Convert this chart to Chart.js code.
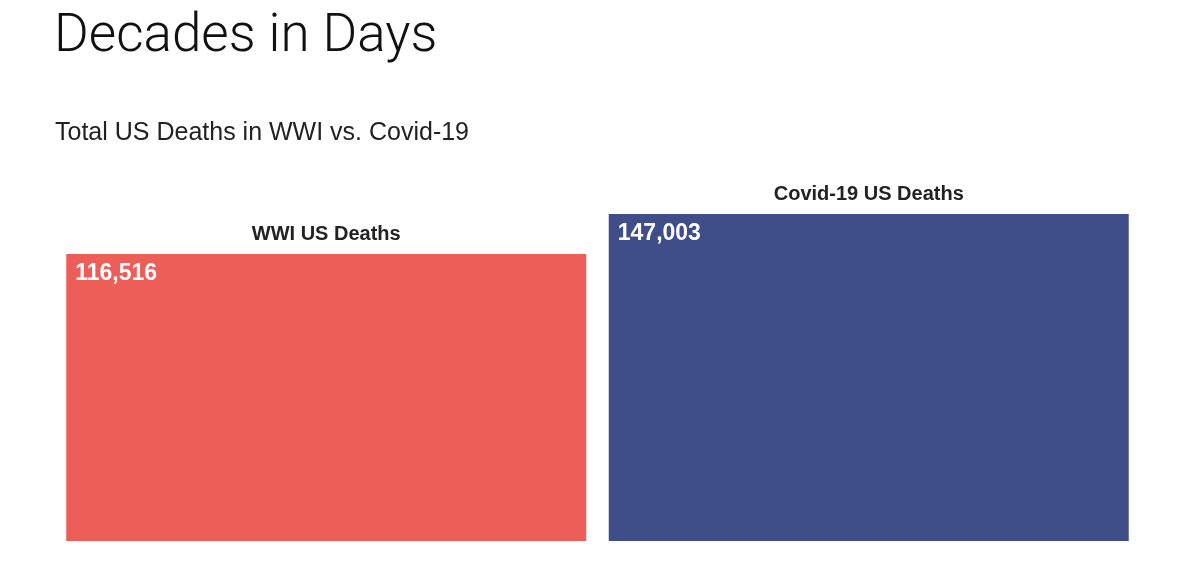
<!DOCTYPE html>
<html>
<head>
<meta charset="utf-8">
<script src="https://cdn.jsdelivr.net/npm/chart.js@4/dist/chart.umd.min.js"></script>
<style>
  html, body { margin: 0; padding: 0; background: #fff; }
  #wrap { position: relative; width: 1200px; height: 562px; overflow: hidden; }
  #title { position: absolute; left: 54px; top: 7px; font: 300 53px/1 Roboto, "Liberation Sans", sans-serif; color: #111; margin: 0; white-space: nowrap; }
  #subtitle { position: absolute; left: 55px; top: 119px; font: 25px/1 "Liberation Sans", Arial, sans-serif; color: #222; margin: 0; white-space: nowrap; }
  #chart { position: absolute; left: 0; top: 0; }
</style>
</head>
<body>
<div id="wrap">
  <canvas id="chart" width="1200" height="562"></canvas>
  <h1 id="title">Decades in Days</h1>
  <p id="subtitle">Total US Deaths in WWI vs. Covid-19</p>
</div>
<script>
const categories = ['WWI US Deaths', 'Covid-19 US Deaths'];
const deaths = [116516, 147003];
const barColors = ['#ED5E58', '#3F4D88'];

// bar captions above and values inside each bar
const barText = {
  id: 'barText',
  afterDatasetsDraw(chart) {
    const ctx = chart.ctx;
    const meta = chart.getDatasetMeta(0);
    meta.data.forEach((bar, i) => {
      const left = bar.x - bar.width / 2;
      ctx.save();
      ctx.textBaseline = 'alphabetic';
      ctx.fillStyle = '#222';
      ctx.font = 'bold 20px "Liberation Sans", Arial, sans-serif';
      ctx.textAlign = 'center';
      ctx.fillText(categories[i], bar.x, bar.y - 14);
      ctx.fillStyle = '#fff';
      ctx.font = 'bold 23px "Liberation Sans", Arial, sans-serif';
      ctx.textAlign = 'left';
      ctx.fillText(deaths[i].toLocaleString('en-US'), left + 9, bar.y + 26);
      ctx.restore();
    });
  }
};

new Chart(document.getElementById('chart'), {
  type: 'bar',
  data: {
    labels: categories,
    datasets: [{
      data: deaths,
      backgroundColor: barColors,
      borderWidth: 0,
      categoryPercentage: 1,
      barPercentage: 0.9585
    }]
  },
  options: {
    responsive: false,
    animation: false,
    layout: { padding: { left: 55, right: 60, top: 160, bottom: 21 } },
    plugins: { legend: { display: false }, tooltip: { enabled: false } },
    scales: {
      x: { display: false },
      y: { type: 'logarithmic', display: false, min: 21990, max: 201200 }
    }
  },
  plugins: [barText]
});
</script>
</body>
</html>
